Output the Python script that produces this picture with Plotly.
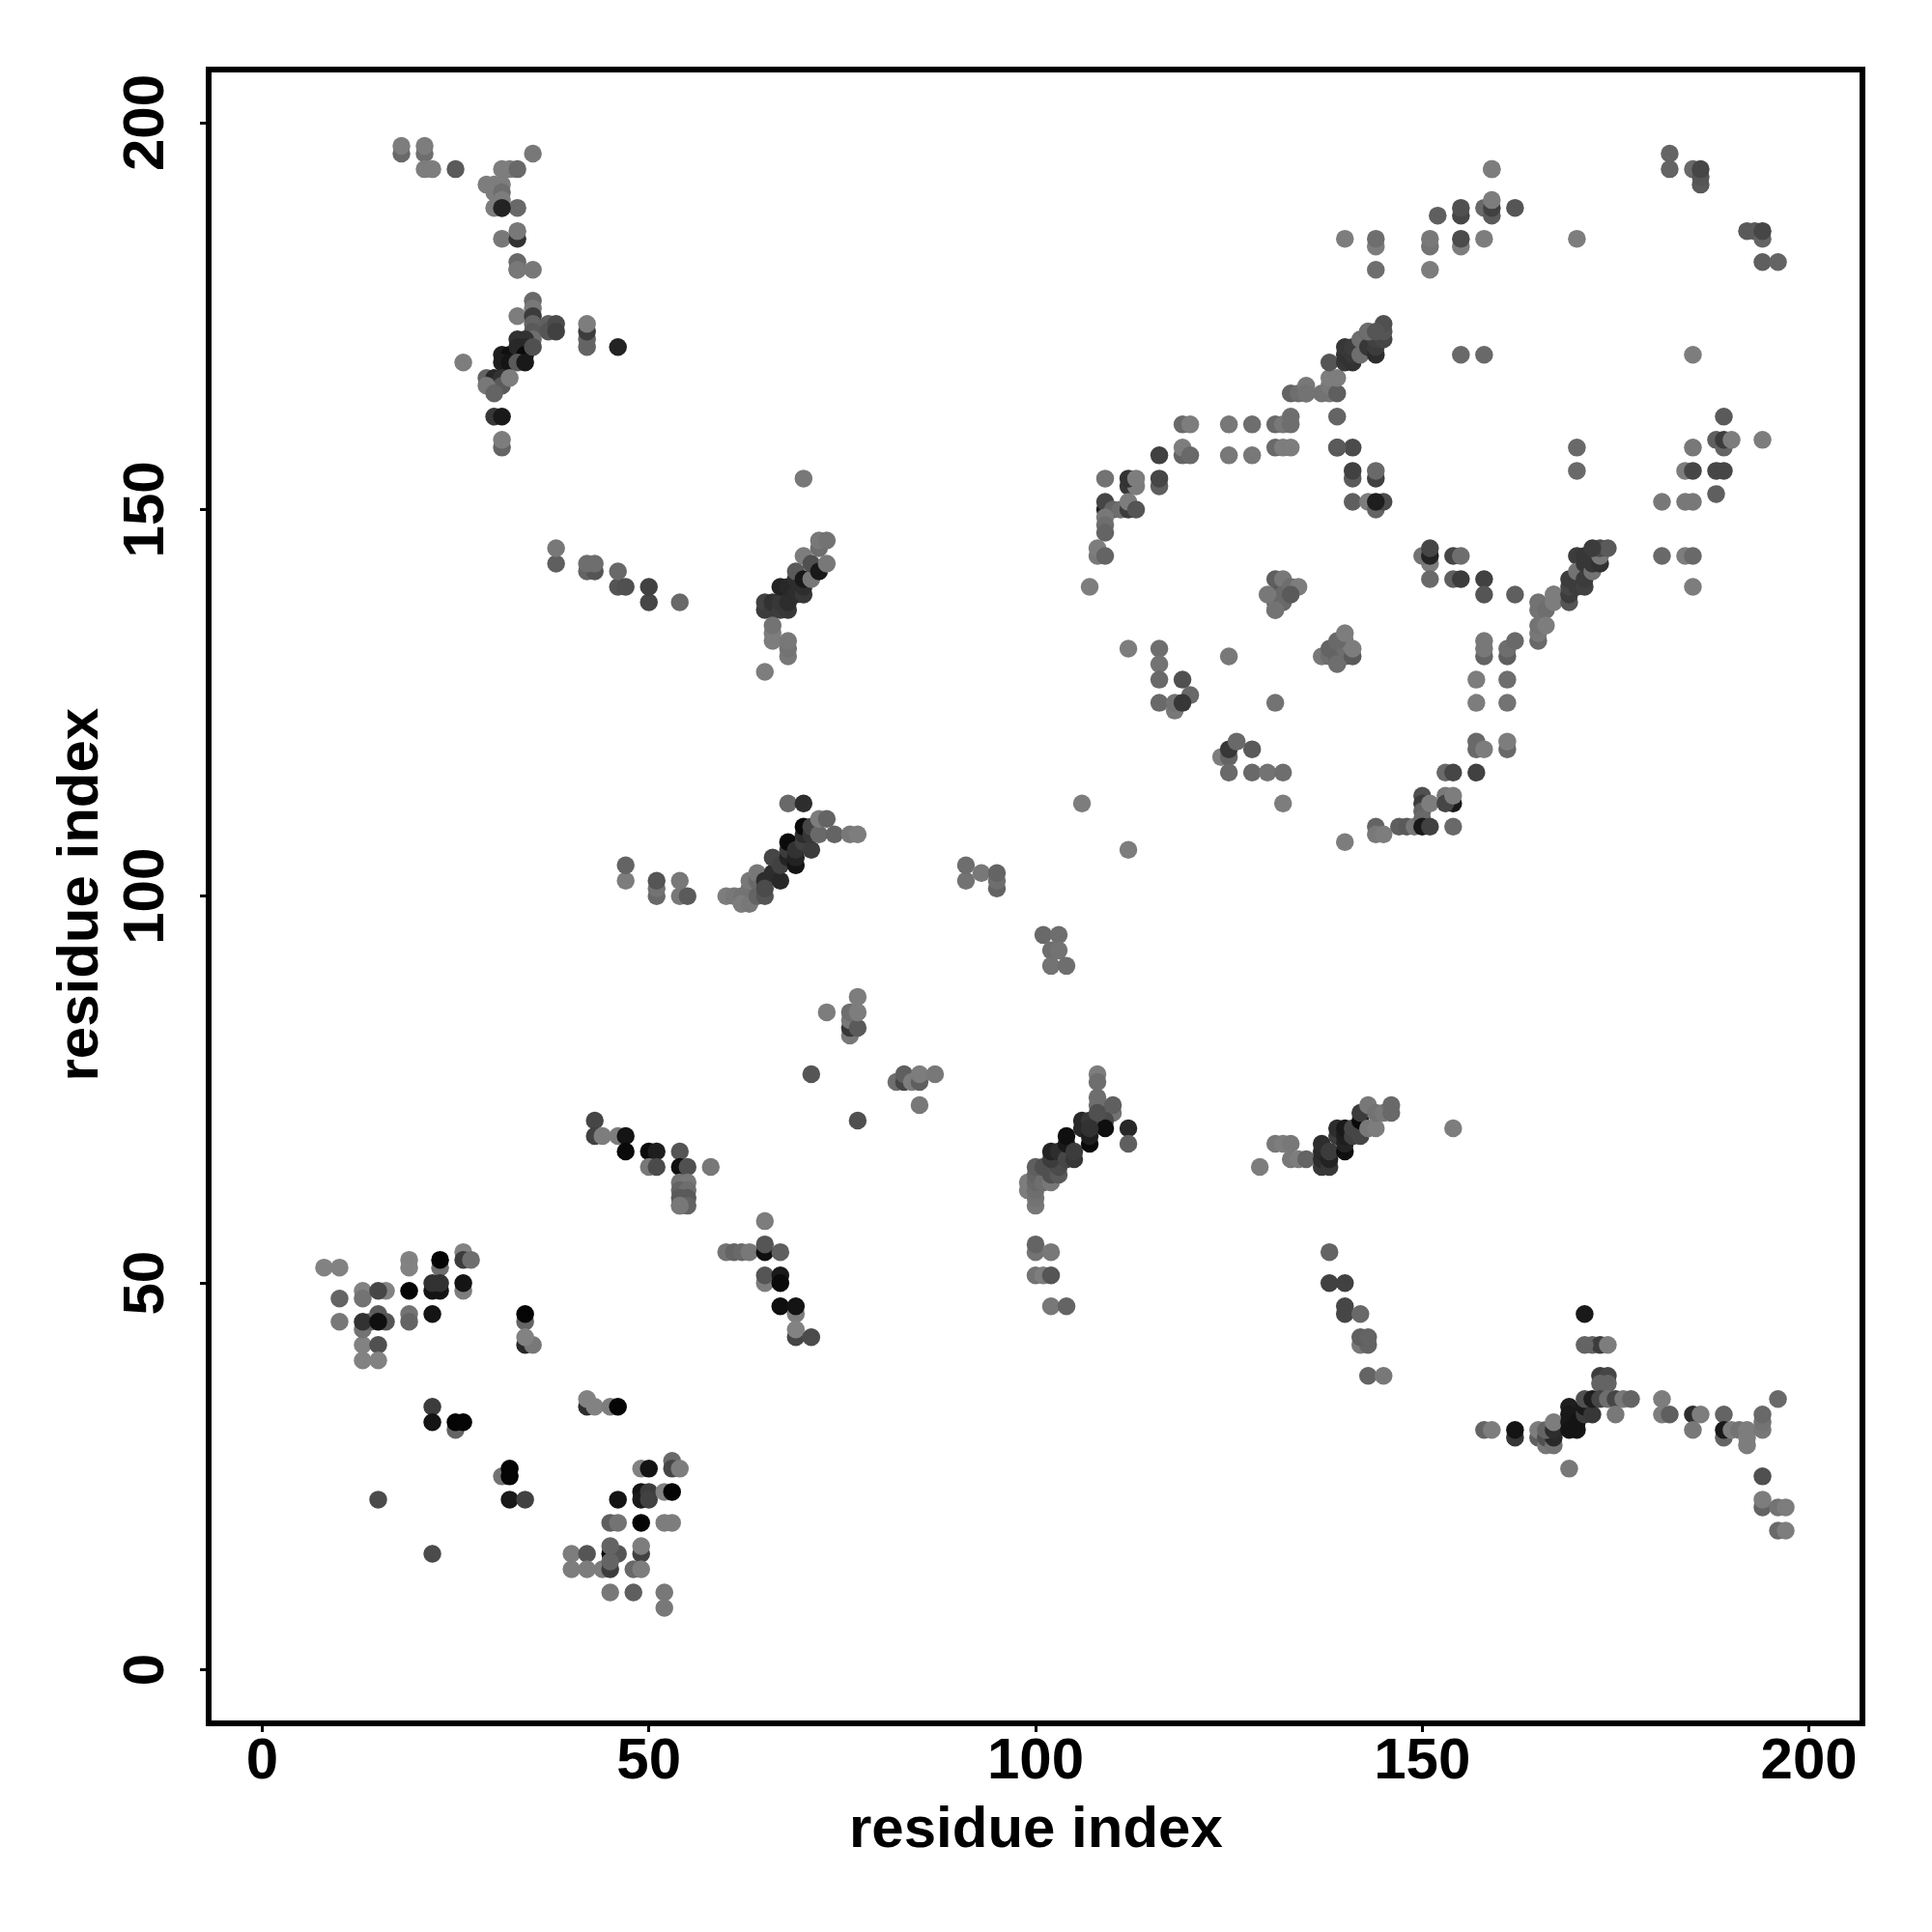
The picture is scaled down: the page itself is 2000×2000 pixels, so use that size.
import plotly.graph_objects as go

# each region: residue x, residue y, grey level of the point (in drawing order)
x_a = [13,13,13,13,13,15,15,15,14,16,10,10,8,10,16,13,15,15,19,19,19,19,19,22,23,22,23,22,23,23,26,26,27,26,26]
y_a = [49,48,42,40,44,42,40,46,45,45,48,45,52,52,49,45,49,45,53,52,46,45,49,46,52,49,49,50,50,53,54,53,53,49,50]
g_a = [130,115,130,130,115,80,130,90,100,85,100,120,130,130,130,50,70,15,130,130,115,100,5,20,110,20,20,50,50,5,130,60,110,125,20]

x_b = [34,34,34,35,34,22,22,25,25,26,42,42,43,45,46,31,32,32,32,34,15,22]
y_b = [45,42,46,42,43,34,32,31,32,32,34,35,34,34,34,25,26,25,22,22,22,15]
g_b = [100,40,5,120,130,60,20,100,5,5,45,130,130,125,5,115,5,5,25,65,75,75]

x_c = [49,50,53,53,54,49,49,50,50,52,53,46,45,46,49,52,53,40,42,40,42,44,45,45,46,45,45,49,49,48,49,45,48,52,52]
y_c = [26,26,27,26,26,23,22,23,22,23,23,22,19,19,19,19,19,15,15,13,13,13,13,15,15,14,16,15,16,13,13,10,10,10,8]
g_c = [130,20,105,70,125,20,25,60,65,130,5,20,95,115,5,125,125,125,85,125,125,125,60,5,85,100,100,65,125,105,125,120,95,120,120]

x_d = [65,60,61,62,63,65,65,67,65,65,67,67,67,69,69,69,69,71]
y_d = [58,54,54,54,54,54,55,54,50,51,51,50,47,46,47,43,44,43]
g_d = [125,115,100,105,120,15,85,95,125,85,25,10,15,125,20,70,130,75]

x_e = [43,43,44,46,47,47,50,51,50,51,54,54,55,58,54,55,54,55,54,55,54,55,54]
y_e = [71,69,69,69,69,67,67,67,65,65,67,65,65,65,63,63,62,62,61,61,60,60,60]
g_e = [70,65,125,125,20,10,10,30,120,75,85,15,80,120,115,120,100,110,90,90,100,100,120]

x_f = [18,18,21,21,21,22,25,31,32,33,35,29,30,31,30,31,31,31,30,33,31,33,33,31,33,33,33,35]
y_f = [196,197,196,197,194,194,194,194,194,194,196,192,191,189,192,192,191,190,189,189,185,185,186,189,181,182,181,181]
g_f = [105,125,110,125,125,125,90,125,125,105,120,125,125,30,125,125,110,125,125,105,120,50,120,35,120,105,120,120]

x_g = [33,35,35,35,35,35,35,37,37,38,38,42,42,42,42,46,26,34,33,31,32,31,32,33,34,34,33,34]
y_g = [175,177,176,175,174,173,172,174,173,174,173,171,172,173,174,171,169,172,172,170,170,169,169,171,171,170,169,169]
g_g = [125,105,120,60,100,90,110,95,85,75,65,100,100,60,125,35,125,50,50,30,15,30,20,40,40,10,90,25]

x_h = [35,29,30,30,31,31,29,30,32,30,31,31,31]
y_h = [171,167,167,166,167,166,166,165,167,162,162,158,159]
g_h = [80,100,40,50,50,90,120,100,125,55,25,100,125]

x_i = [38,38,42,43,42,43,46,46,47,50,50,54]
y_i = [143,145,142,142,143,143,140,142,140,138,140,138]
g_i = [95,120,100,85,110,110,85,105,80,70,65,105]

x_j = [65,65,66,66,67,67,67,68,68,68,69,69,69,70,70,70,70,71,71,72,72,73,72,73,66,66,66,68,68,68,65,70]
y_j = [137,138,137,138,137,138,140,137,138,140,139,141,142,139,140,141,144,141,143,142,145,143,146,146,133,134,135,131,132,133,129,154]
g_j = [60,65,60,50,60,55,35,55,45,40,45,45,90,55,45,25,125,120,80,25,110,120,120,115,125,125,115,120,115,120,125,120]

x_k = [47,47,51,51,51,54,54,55,60,61,62,62,63,63,63,64,64,64,65,65,65,66,66,67,67,68,68,68,69,69,69]
y_k = [102,104,100,101,102,100,102,100,100,100,100,99,99,101,102,100,102,103,100,102,101,103,105,102,104,105,106,107,104,105,106]
g_k = [125,100,105,115,85,120,120,90,125,120,115,125,120,115,120,100,105,120,85,45,75,45,70,40,65,35,60,10,20,35,50]

x_l = [70,70,70,71,71,71,72,72,73,74,76,77,68,70]
y_l = [107,108,109,106,108,109,108,110,110,108,108,108,112,112]
g_l = [65,45,10,60,55,70,105,125,100,100,120,125,105,45]

x_m = [73,76,76,76,77,76,77,77,71,77,82,83,83,84,85,85,87,85]
y_m = [85,82,83,84,83,85,85,87,77,71,76,76,77,76,76,77,77,73]
g_m = [125,120,55,120,90,110,125,125,85,80,110,70,95,125,95,125,120,120]

x_n = [91,91,93,95,95,95,101,103,102,103,102,104]
y_n = [102,104,103,101,102,103,95,95,93,93,91,91]
g_n = [115,110,120,100,110,100,105,110,110,115,115,110]

x_o = [99,99,100,100,100,100,100,101,100,102,101,102,103,103,102,102,103,104,104,104,105,105,106,106,107,107,107]
y_o = [62,63,60,61,62,63,64,63,65,63,65,64,64,65,66,67,67,66,68,69,66,67,70,71,68,69,71]
g_o = [125,125,120,115,110,105,100,110,95,120,80,80,90,75,60,35,45,70,25,15,55,60,40,40,10,30,55]

x_p = [108,108,108,108,110,110,109,109,112,112,108,107]
y_p = [77,76,74,73,72,73,71,70,70,68,72,70]
g_p = [125,110,110,110,115,95,75,15,40,95,80,50]

x_q = [100,100,102,100,101,102,102,104,129,131,132,133,133,134,135]
y_q = [54,55,54,51,51,51,47,47,65,68,68,68,66,66,66]
g_q = [115,100,120,115,125,85,120,100,125,120,125,120,120,125,100]

x_r = [137,137,137,137,138,138,138,139,139,140,140,140,140,141,141,142,142,142,143,143,144,144,145,146,146]
y_r = [65,66,67,68,65,66,67,69,70,67,68,69,70,69,70,69,71,72,70,73,70,72,72,72,73]
g_r = [55,45,40,45,55,35,60,60,45,15,35,30,25,65,70,70,10,60,120,120,125,115,120,105,105]

x_s = [138,138,140,140,140,142,142,143,142,143,143,145,154]
y_s = [54,50,50,47,46,46,42,42,43,43,38,38,70]
g_s = [100,65,65,70,70,105,120,100,95,100,100,120,125]

x_t = [158,159,162,162,165,165,166,166,167,167,166,167,167,169]
y_t = [31,31,30,31,30,31,29,30,29,30,31,31,32,26]
g_t = [100,125,55,20,95,125,120,80,115,40,100,45,125,120]

x_u = [169,169,169,169,170,170,171,171,171,172,172,171,172,173,174,173,174,173,174,173,174,175,176,177,175]
y_u = [34,33,32,31,32,31,33,34,35,33,35,46,42,42,42,38,38,37,37,35,35,35,35,35,33]
g_u = [30,25,25,20,20,20,60,25,80,55,30,25,100,60,125,60,70,100,100,70,110,70,120,100,120]
x_u2 = [171]
y_u2 = [42]
g_u2 = [100]

x_v = [181,181,182,185,186,185,189,189,189,190,191,192,192,192,194,194,194,196,194,194,194,196,197,196,197]
y_v = [35,33,33,33,33,31,33,30,31,31,31,29,30,31,31,32,33,35,25,21,22,21,21,18,18]
g_v = [125,125,95,45,125,120,100,100,25,125,115,125,125,125,120,115,105,105,80,100,125,115,125,105,125]

x_w = [152,155,155,158,159,159,159,159,162,159,140,144,144,144,151,151,151,155,155,158]
y_w = [188,188,189,189,188,189,190,194,189,194,185,184,185,181,184,185,181,184,185,185]
g_w = [95,70,80,105,90,65,125,125,85,125,125,125,110,110,115,120,125,125,75,125]

x_x = [155,158,170,185,182,182,185,186,186,186,192,193,194,194,194,196,170,170]
y_x = [170,170,185,170,196,194,194,192,193,194,186,186,185,186,182,182,158,155]
g_x = [105,105,125,125,100,100,105,90,85,70,90,90,100,70,95,100,105,105]

x_y = [189,188,189,189,190,194,185,184,185,188,189,188,181,184,185,181,184,185,185]
y_y = [162,159,158,159,159,159,158,155,155,155,155,152,151,151,151,144,144,144,140]
g_y = [90,95,100,60,125,125,120,125,70,70,70,95,120,120,120,105,125,105,125]

x_z = [138,137,135,133,134,135,135,138,138,138,139,139,140,140,140,141,141,141,142,142,143,143,144,144,144,145,145,145,143,144,139]
y_z = [165,165,165,165,165,166,165,166,167,169,165,167,169,170,171,169,170,171,170,172,171,173,170,171,172,172,173,174,173,173,162]
g_z = [120,115,105,100,110,120,115,120,125,85,95,125,55,50,55,50,55,60,110,110,55,80,45,60,65,70,85,80,110,85,100]

x_aa = [119,120,125,128,131,132,133,133,116,119,119,120,125,128,131,132,133]
y_aa = [161,161,161,161,161,161,161,162,157,157,158,157,157,157,158,158,158]
g_aa = [105,125,120,110,105,120,110,110,65,100,125,105,120,120,105,125,125]

x_ab = [139,141,139,141,141,144,144,141,143,144,145,144]
y_ab = [158,158,158,154,155,154,155,151,151,150,151,151]
g_ab = [90,75,90,90,65,65,105,95,125,100,75,30]

x_ac = [109,112,113,112,113,116,116,109,109,110,111,112,112,113,109,109,109,108,108,109,107]
y_ac = [154,153,153,154,154,153,154,150,151,150,150,150,151,150,149,148,147,144,145,144,140]
g_ac = [115,55,125,50,125,95,70,35,70,100,110,60,125,85,120,110,100,120,125,100,125]

x_ad = [151,150,151,151,154,155,151,154,155,158,158,162]
y_ad = [143,144,144,145,144,144,141,141,141,141,139,139]
g_ad = [125,115,35,70,70,110,105,95,60,65,85,95]

x_ae = [165,165,165,165,165,166,166,167,167,167,169,169,169,169,170,170,170,170,171,171,171,171,172,172,173,173,173,174,172]
y_ae = [133,134,135,137,138,137,135,138,139,139,138,139,140,141,140,141,144,142,140,141,143,144,142,143,143,144,145,145,145]
g_ae = [105,120,115,115,115,110,125,125,125,125,85,60,70,60,60,60,60,115,65,60,55,55,115,55,50,120,75,90,60]

x_af = [131,131,132,131,132,133,134,130,131,132,133,131]
y_af = [141,139,141,138,139,140,140,139,137,138,139,137]
g_af = [95,90,120,95,105,110,125,120,115,105,90,115]

x_ag = [137,138,139,138,139,140,139,140,141,140,141,139,140]
y_ag = [131,131,131,132,132,131,130,132,131,133,132,133,134]
g_ag = [120,110,100,100,100,100,110,110,90,120,125,105,125]

x_ah = [112,116,116,116,119,120,116,118,118,119,125,131]
y_ah = [132,132,130,128,128,126,125,124,125,125,131,125]
g_ah = [125,110,115,105,80,105,105,120,115,55,120,115]

x_ai = [124,125,125,126,128,125,128,130,132,132,106,112,140]
y_ai = [118,118,119,120,119,116,116,116,116,112,112,106,107]
g_ai = [125,100,55,105,90,105,105,115,110,125,125,125,125]

x_aj = [144,144,145,147,148,149,150,150,150,150,150,151,151,153,154,153,154,154,153,154,157]
y_aj = [109,108,108,109,109,109,113,112,111,110,109,112,109,113,112,112,113,109,116,116,116]
g_aj = [100,120,125,95,90,120,80,60,100,105,25,125,65,120,25,70,125,105,105,70,65]

x_ak = [157,157,158,161,161,157,161,157,161,158,158,158,161,161,162]
y_ak = [119,120,119,119,120,128,128,125,125,131,132,133,131,132,133]
g_ak = [105,105,125,105,125,125,110,125,115,100,120,120,95,110,105]

x_regions = [x_a,x_b,x_c,x_d,x_e,x_f,x_g,x_h,x_i,x_j,x_k,x_l,x_m,x_n,x_o,x_p,x_q,x_r,x_s,x_t,x_u,x_u2,x_v,x_w,x_x,x_y,x_z,x_aa,x_ab,x_ac,x_ad,x_ae,x_af,x_ag,x_ah,x_ai,x_aj,x_ak]
y_regions = [y_a,y_b,y_c,y_d,y_e,y_f,y_g,y_h,y_i,y_j,y_k,y_l,y_m,y_n,y_o,y_p,y_q,y_r,y_s,y_t,y_u,y_u2,y_v,y_w,y_x,y_y,y_z,y_aa,y_ab,y_ac,y_ad,y_ae,y_af,y_ag,y_ah,y_ai,y_aj,y_ak]
g_regions = [g_a,g_b,g_c,g_d,g_e,g_f,g_g,g_h,g_i,g_j,g_k,g_l,g_m,g_n,g_o,g_p,g_q,g_r,g_s,g_t,g_u,g_u2,g_v,g_w,g_x,g_y,g_z,g_aa,g_ab,g_ac,g_ad,g_ae,g_af,g_ag,g_ah,g_ai,g_aj,g_ak]

tick_vals = [0, 50, 100, 150, 200]
axis_title = "residue index"

xs, ys, cols = [], [], []
for xr, yr, gr in zip(x_regions, y_regions, g_regions):
    n = min(len(xr), len(yr), len(gr))
    xs += xr[:n]
    ys += yr[:n]
    cols += [f"rgb({v},{v},{v})" for v in gr[:n]]

fig = go.Figure(go.Scatter(x=xs, y=ys, mode="markers",
                           marker=dict(size=18.5, color=cols, line=dict(width=0))))

FONT = "Liberation Sans"
axis = dict(tickmode="array", tickvals=tick_vals, ticktext=[str(t) for t in tick_vals],
            showgrid=False, zeroline=False, showline=True, mirror=True,
            linecolor="black", linewidth=5.5, ticks="outside", ticklen=6, tickwidth=3,
            tickcolor="black",
            tickfont=dict(family=FONT, size=60, color="black", weight=700))

W = 2000
L, R, T, B = 210.5, 1917.5, 66.5, 1773.5
PAGE = 8  # page offset of the figure in the browser
fig.update_layout(width=W, height=W, paper_bgcolor="white", plot_bgcolor="white",
                  margin=dict(l=L, r=W-R, t=T, b=W-B, autoexpand=False), showlegend=False,
                  xaxis=dict(axis, range=[-6.55, 206.55], ticklabelstandoff=-24),
                  yaxis=dict(axis, range=[-6.55, 206.5], tickangle=-90, ticklabelstandoff=14,
                             ticklabelshift=9),
                  annotations=[
                      dict(text=axis_title, xref="paper", yref="paper", x=(1072-PAGE-L)/(R-L),
                           y=(B-(1892-PAGE))/(B-T),
                           xanchor="center", yanchor="middle", showarrow=False,
                           font=dict(family=FONT, size=60, color="black", weight=700)),
                      dict(text=axis_title, xref="paper", yref="paper", x=(79-PAGE-L)/(R-L),
                           y=(B-(926-PAGE))/(B-T),
                           textangle=-90, xanchor="center", yanchor="middle", showarrow=False,
                           font=dict(family=FONT, size=60, color="black", weight=700)),
                  ])
fig.write_html("out.html")
